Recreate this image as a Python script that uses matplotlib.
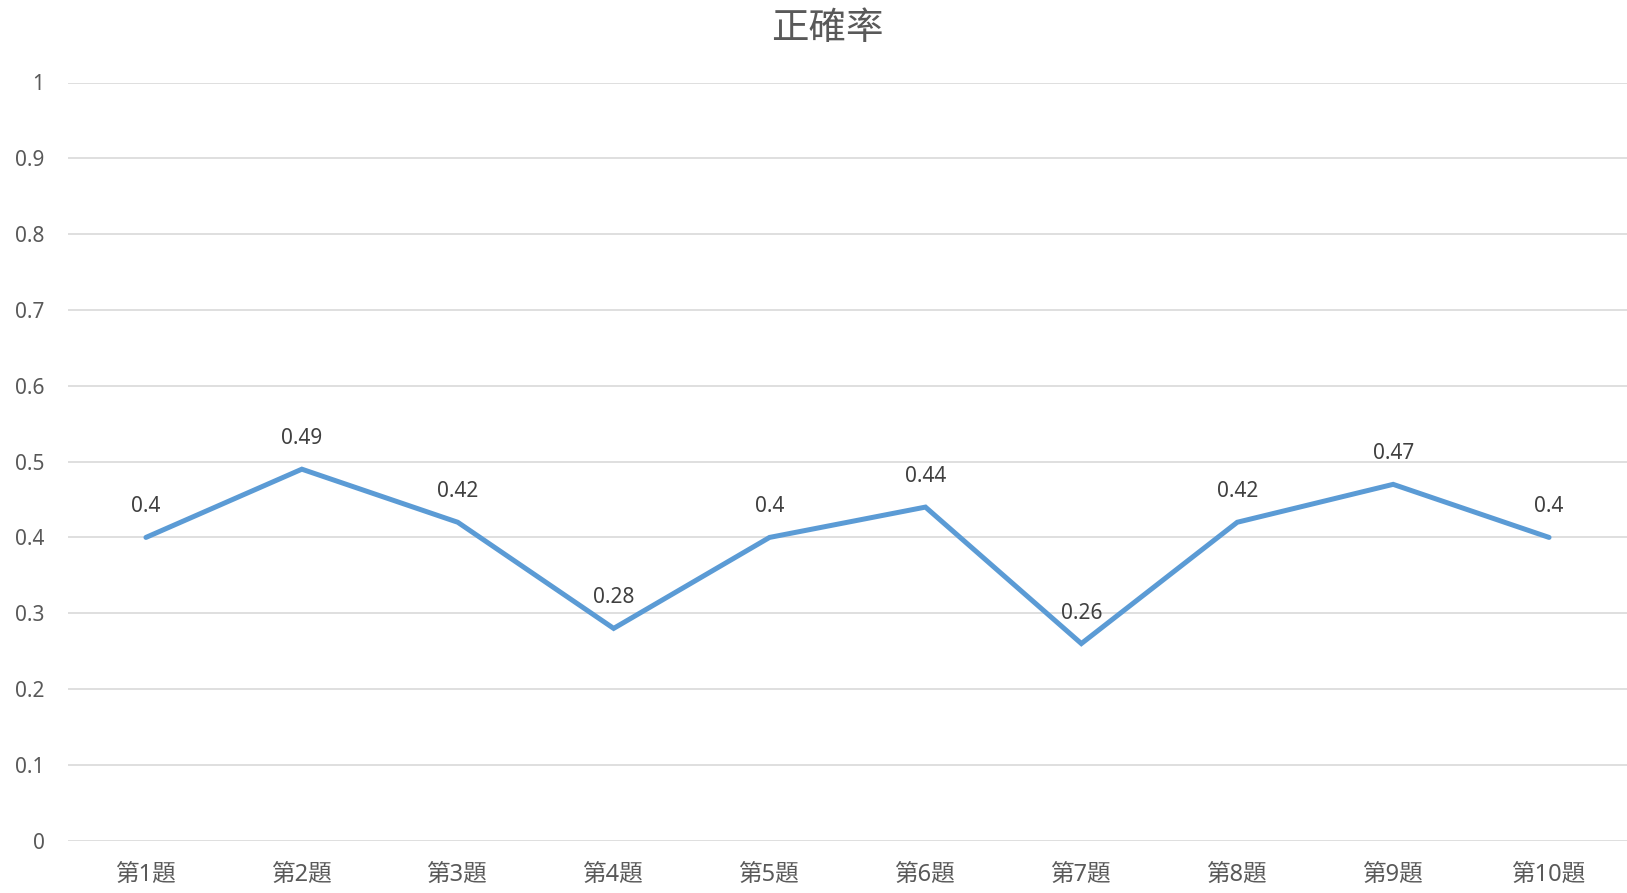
import matplotlib
matplotlib.use('Agg')
import matplotlib.pyplot as plt

plt.rcParams['font.family'] = ['Noto Sans', 'Noto Sans CJK TC', 'DejaVu Sans']

categories = ['第1題', '第2題', '第3題', '第4題', '第5題', '第6題', '第7題', '第8題', '第9題', '第10題']
accuracy = [0.4, 0.49, 0.42, 0.28, 0.4, 0.44, 0.26, 0.42, 0.47, 0.4]
y_ticks = [0, 0.1, 0.2, 0.3, 0.4, 0.5, 0.6, 0.7, 0.8, 0.9, 1]
y_labels = ['0', '0.1', '0.2', '0.3', '0.4', '0.5', '0.6', '0.7', '0.8', '0.9', '1']

fig = plt.figure(figsize=(16.27, 8.93), dpi=100)
ax = fig.add_axes([68 / 1627, 1 - 840.7 / 893, 1 - 68 / 1627, (840.7 - 82.5) / 893])

x = range(len(categories))
ax.plot(x, accuracy, color='#5B9BD5', linewidth=3.6, solid_capstyle='round', solid_joinstyle='miter', zorder=3)
for i, v in zip(x, accuracy):
    ax.annotate(f'{v:g}', (i, v), xytext=(0, 22), textcoords='offset points',
                ha='center', va='center', fontsize=15, color='#404040')

ax.set_xlim(-0.5, len(categories) - 0.5)
ax.set_ylim(0, 1)
ax.set_xticks(list(x))
ax.set_xticklabels(categories, fontsize=17, color='#595959')
ax.set_yticks(y_ticks)
ax.set_yticklabels(y_labels, fontsize=15, color='#595959')
ax.tick_params(axis='both', length=0)
ax.tick_params(axis='y', pad=17)
ax.tick_params(axis='x', pad=16)
ax.grid(axis='y', color='#D9D9D9', linewidth=1.2)
ax.set_axisbelow(True)
for s in ax.spines.values():
    s.set_visible(False)

fig.text(827 / 1627, 1 - 29 / 893, '正確率', ha='center', va='center', fontsize=27,
         color='#595959', family=['Noto Sans CJK TC'])

fig.savefig('out.png', dpi=100)
